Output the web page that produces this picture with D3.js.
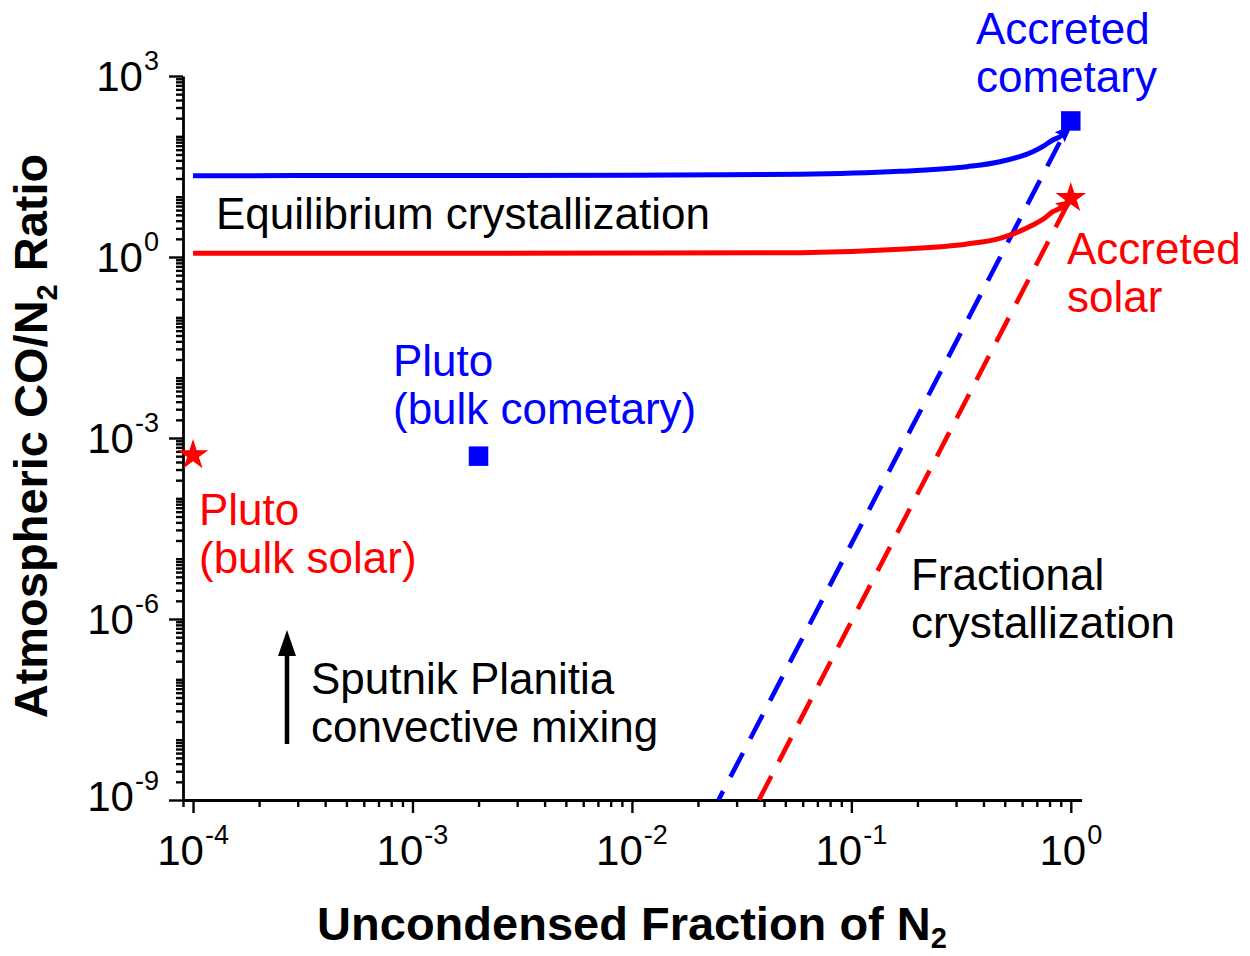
<!DOCTYPE html>
<html><head><meta charset="utf-8">
<script src="https://cdn.jsdelivr.net/npm/d3@7"></script>
<style>
body{margin:0;background:#fff}
svg{display:block}
text{font-family:"Liberation Sans",Arial,Helvetica,sans-serif}
</style>
</head><body>
<svg id="c" width="1250" height="956"></svg>
<script>
// ---------- data ----------
const xTickExponents = [-4, -3, -2, -1, 0];
const yTickExponents = [3, 0, -3, -6, -9];

// Equilibrium crystallization (solid curves)
const eqFraction  = [1e-4, 0.01, 0.0583, 0.166, 0.336, 0.475, 0.671, 0.75, 0.828, 0.9, 0.93];
const eqCometary  = [22.3, 22.6, 23.5, 26.3, 31.4, 37.9, 55.6, 69, 86.9, 101, 113];
const eqSolar     = [1.15, 1.16, 1.18, 1.34, 1.64, 2.04, 3.39, 4.26, 5.63, 6.5, 7.0];

// Fractional crystallization (dashed lines)
const fcFractionCometary = [0.0248, 1];
const fcCometary         = [1e-9, 180];
const fcFractionSolar    = [0.0379, 1];
const fcSolar            = [1e-9, 9.5];

// Markers
const accretedFraction = [1, 1];
const accretedRatio    = [180, 9.5];     // cometary (square), solar (star)
const plutoFraction    = [0.002, 1e-4];
const plutoRatio       = [5e-4, 5.2e-4]; // cometary (square), solar (star)

const BLUE = "#0000ff", RED = "#ff0000";

// ---------- scales ----------
const svg = d3.select("#c");
const x = d3.scaleLog().domain([9e-5, 1.12]).range([183, 1081.6]);
const y = d3.scaleLog().domain([1e-9, 1e3]).range([800, 76]);

// ---------- axes ----------
const majorX = xTickExponents.map(e => Math.pow(10, e));
const minorX = [];
for (let e = -5; e <= 0; e++) for (let m = 2; m <= 9; m++) {
  const v = m * Math.pow(10, e);
  if (v >= 9e-5 - 1e-12 && v <= 1.12) minorX.push(v);
}
const majorY = yTickExponents.map(e => Math.pow(10, e));
const minorY = [];
for (let e = -9; e <= 2; e++) for (let m = 1; m <= 9; m++) {
  if (m === 1 && yTickExponents.includes(e)) continue;
  minorY.push(m * Math.pow(10, e));
}

function styleAxis(g, showDomain) {
  g.selectAll(".tick line").attr("stroke", "#000").attr("stroke-width", 2.4);
  g.select(".domain").attr("stroke", showDomain ? "#000" : "none").attr("stroke-width", 2.8);
  g.selectAll(".tick text").remove();
}

svg.append("g").attr("transform", "translate(0,800)")
  .call(d3.axisBottom(x).tickValues(minorX).tickSize(7).tickSizeOuter(0).tickFormat(""))
  .call(g => styleAxis(g, false));
svg.append("g").attr("transform", "translate(0,800)")
  .call(d3.axisBottom(x).tickValues(majorX).tickSize(13).tickSizeOuter(0).tickFormat(""))
  .call(g => styleAxis(g, true));
svg.append("g").attr("transform", "translate(183,0)")
  .call(d3.axisLeft(y).tickValues(minorY).tickSize(7).tickSizeOuter(0).tickFormat(""))
  .call(g => styleAxis(g, false));
svg.append("g").attr("transform", "translate(183,0)")
  .call(d3.axisLeft(y).tickValues(majorY).tickSize(14).tickSizeOuter(0).tickFormat(""))
  .call(g => styleAxis(g, true));

// tick labels: 10^n
xTickExponents.forEach(e => {
  const t = svg.append("text").attr("x", x(Math.pow(10, e))).attr("y", 865)
    .attr("text-anchor", "middle").attr("font-size", 42).attr("fill", "#000");
  t.append("tspan").text("10");
  t.append("tspan").attr("font-size", 27).attr("dy", -21).attr("dx", 1).text(e === 0 ? "0" : "-" + Math.abs(e));
});
yTickExponents.forEach(e => {
  const t = svg.append("text").attr("x", 159).attr("y", y(Math.pow(10, e)) + (e === -9 ? 11 : 15))
    .attr("text-anchor", "end").attr("font-size", 42).attr("fill", "#000");
  t.append("tspan").text("10");
  t.append("tspan").attr("font-size", 27).attr("dy", -21).attr("dx", 1).text(e < 0 ? "-" + Math.abs(e) : String(e));
});

// axis titles
const xt = svg.append("text").attr("x", 632).attr("y", 940).attr("text-anchor", "middle")
  .attr("font-size", 47).attr("font-weight", "bold").attr("fill", "#000");
xt.append("tspan").text("Uncondensed Fraction of N");
xt.append("tspan").attr("font-size", 29).attr("dy", 8).text("2");

const yt = svg.append("text").attr("transform", "translate(47,436) rotate(-90)")
  .attr("text-anchor", "middle").attr("font-size", 47).attr("font-weight", "bold").attr("fill", "#000");
yt.append("tspan").text("Atmospheric CO/N");
yt.append("tspan").attr("font-size", 29).attr("dy", 10).text("2");
yt.append("tspan").attr("dy", -10).text(" Ratio");

// ---------- marks ----------
const defs = svg.append("defs");
[["arrB", BLUE], ["arrR", RED]].forEach(([id, c]) => {
  defs.append("marker").attr("id", id).attr("markerUnits", "userSpaceOnUse")
    .attr("markerWidth", 22).attr("markerHeight", 18).attr("refX", 6).attr("refY", 7)
    .attr("orient", "auto")
    .append("path").attr("d", "M0,0 L18,7 L0,14 L3,7 z").attr("fill", c);
});

const line = d3.line().x(d => x(d[0])).y(d => y(d[1])).curve(d3.curveMonotoneX);

// dashed fractional crystallization
svg.append("path").datum(d3.zip(fcFractionCometary, fcCometary))
  .attr("d", d3.line().x(d => x(d[0])).y(d => y(d[1])))
  .attr("fill", "none").attr("stroke", BLUE).attr("stroke-width", 4.6)
  .attr("stroke-dasharray", "27,16").attr("stroke-dashoffset", 17);
svg.append("path").datum(d3.zip(fcFractionSolar, fcSolar))
  .attr("d", d3.line().x(d => x(d[0])).y(d => y(d[1])))
  .attr("fill", "none").attr("stroke", RED).attr("stroke-width", 4.6)
  .attr("stroke-dasharray", "27,16").attr("stroke-dashoffset", 0);

// solid equilibrium curves
svg.append("path").datum(d3.zip(eqFraction, eqCometary)).attr("d", line)
  .attr("fill", "none").attr("stroke", BLUE).attr("stroke-width", 5)
  .attr("marker-end", "url(#arrB)");
svg.append("path").datum(d3.zip(eqFraction, eqSolar)).attr("d", line)
  .attr("fill", "none").attr("stroke", RED).attr("stroke-width", 5)
  .attr("marker-end", "url(#arrR)");

// markers
const sq = d3.symbol().type(d3.symbolSquare).size(380);
const st = d3.symbol().type(d3.symbolStar).size(290);
svg.append("path").attr("d", sq()).attr("fill", BLUE)
  .attr("transform", `translate(${x(accretedFraction[0])},${y(accretedRatio[0])})`);
svg.append("path").attr("d", st()).attr("fill", RED)
  .attr("transform", `translate(${x(accretedFraction[1])},${y(accretedRatio[1])})`);
svg.append("path").attr("d", sq()).attr("fill", BLUE)
  .attr("transform", `translate(${x(plutoFraction[0])},${y(plutoRatio[0])})`);
svg.append("path").attr("d", st()).attr("fill", RED)
  .attr("transform", `translate(${x(plutoFraction[1])},${y(plutoRatio[1])})`);

// Sputnik Planitia arrow
defs.append("marker").attr("id", "arrK").attr("markerUnits", "userSpaceOnUse")
  .attr("markerWidth", 30).attr("markerHeight", 22).attr("refX", 4).attr("refY", 9)
  .attr("orient", "auto")
  .append("path").attr("d", "M0,0 L26,9 L0,18 z").attr("fill", "#000");
svg.append("line").attr("x1", 287).attr("y1", 744).attr("x2", 287).attr("y2", 652)
  .attr("stroke", "#000").attr("stroke-width", 4.5).attr("marker-end", "url(#arrK)");

// ---------- annotations ----------
function label(lines, x0, y0, color) {
  const t = svg.append("text").attr("x", x0).attr("y", y0).attr("font-size", 44).attr("fill", color);
  lines.forEach((s, i) => t.append("tspan").attr("x", x0).attr("dy", i === 0 ? 0 : 47.5).text(s));
}
label(["Accreted", "cometary"], 976, 44, BLUE);
label(["Accreted", "solar"], 1067, 264, RED);
label(["Equilibrium crystallization"], 216, 229, "#000");
label(["Pluto", "(bulk cometary)"], 393, 376, BLUE);
label(["Pluto", "(bulk solar)"], 199, 525, RED);
label(["Fractional", "crystallization"], 911, 590, "#000");
label(["Sputnik Planitia", "convective mixing"], 311, 694, "#000");
</script>
</body></html>
